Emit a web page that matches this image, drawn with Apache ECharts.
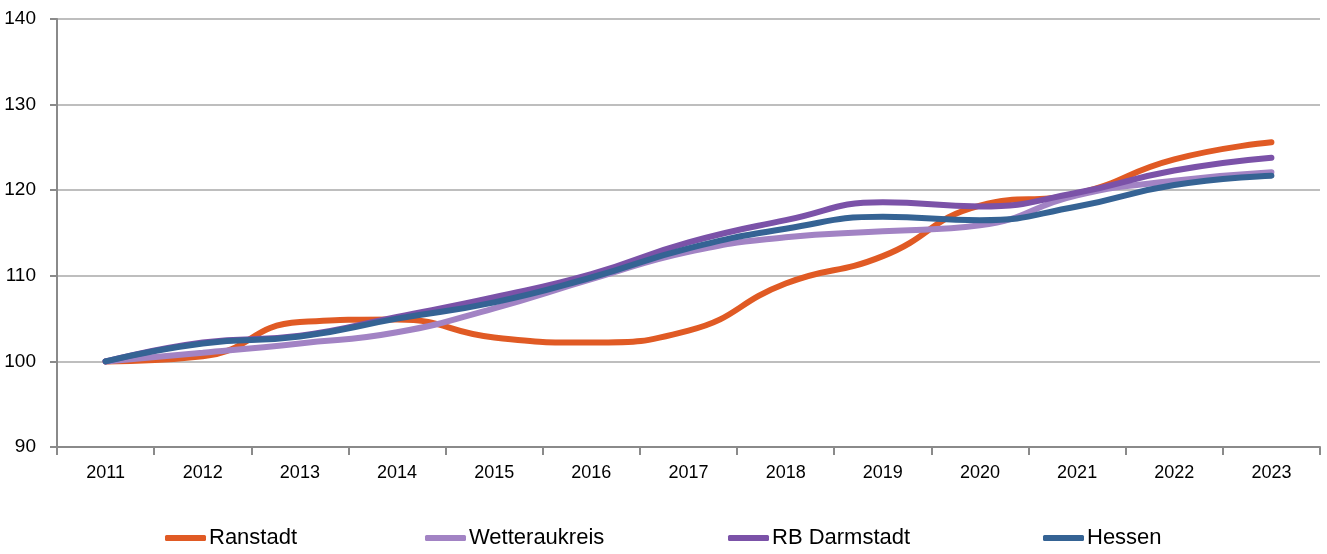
<!DOCTYPE html>
<html>
<head>
<meta charset="utf-8">
<script src="https://cdn.jsdelivr.net/npm/echarts@6/dist/echarts.min.js"></script>
<style>
  html, body { margin: 0; padding: 0; background: #fff; }
  #chart { width: 1327px; height: 554px; }
</style>
</head>
<body>
<div id="chart"></div>
<script>
const years = ['2011', '2012', '2013', '2014', '2015', '2016', '2017', '2018', '2019', '2020', '2021', '2022', '2023'];
const ranstadt = [100, 100.6, 104.6, 104.9, 102.8, 102.2, 103.6, 109.1, 112.3, 118.2, 119.6, 123.6, 125.6];
const wetteraukreis = [100, 101.0, 102.1, 103.4, 106.2, 109.6, 112.8, 114.5, 115.2, 115.9, 119.4, 121.1, 122.1];
const rbDarmstadt = [100, 102.2, 103.0, 105.2, 107.5, 110.2, 113.9, 116.5, 118.6, 118.1, 119.7, 122.3, 123.8];
const hessen = [100, 102.1, 102.9, 105.0, 106.9, 109.8, 113.2, 115.5, 116.9, 116.5, 118.1, 120.6, 121.7];
const seriesNames = ['Ranstadt', 'Wetteraukreis', 'RB Darmstadt', 'Hessen'];

const FONT = "'Liberation Sans Narrow', 'Arial Narrow', 'Liberation Sans', Arial, sans-serif";

const chart = echarts.init(document.getElementById('chart'));

function line(name, data, color) {
    return {
        name: name,
        type: 'line',
        data: data,
        smooth: 0.5,
        showSymbol: false,
        symbol: 'none',
        lineStyle: { color: color, width: 6, cap: 'round' },
        itemStyle: { color: color }
    };
}

// one legend per item so the spacing follows the original
const legendLefts = [165, 425, 728, 1043];
const legends = seriesNames.map((n, i) => ({
    left: legendLefts[i],
    top: 527,
    padding: 0,
    itemWidth: 41,
    itemHeight: 6,
    icon: 'roundRect',
    textStyle: { fontFamily: FONT, fontSize: 22, color: '#000', padding: [0, 0, 0, -2] },
    data: [n]
}));

chart.setOption({
    animation: false,
    grid: { left: 57, right: 7, top: 19, bottom: 107, outerBoundsMode: 'none' },
    legend: legends,
    xAxis: {
        type: 'category',
        data: years,
        boundaryGap: true,
        axisLine: { lineStyle: { color: '#8a8a8a', width: 2 } },
        axisTick: { show: true, length: 8, lineStyle: { color: '#8a8a8a', width: 2 } },
        axisLabel: { color: '#000', fontFamily: FONT, fontSize: 18, margin: 17 }
    },
    yAxis: {
        type: 'value',
        min: 90,
        max: 140,
        interval: 10,
        axisLine: { show: true, lineStyle: { color: '#8a8a8a', width: 2 } },
        axisTick: { show: true, length: 7, lineStyle: { color: '#8a8a8a', width: 2 } },
        axisLabel: { color: '#000', fontFamily: FONT, fontSize: 19, margin: 21 },
        splitLine: { lineStyle: { color: '#a8a8a8', width: 1.5 } }
    },
    series: [
        line(seriesNames[0], ranstadt, '#e05a24'),
        line(seriesNames[1], wetteraukreis, '#a283c4'),
        line(seriesNames[2], rbDarmstadt, '#7b52a8'),
        line(seriesNames[3], hessen, '#356394')
    ]
});
</script>
</body>
</html>
